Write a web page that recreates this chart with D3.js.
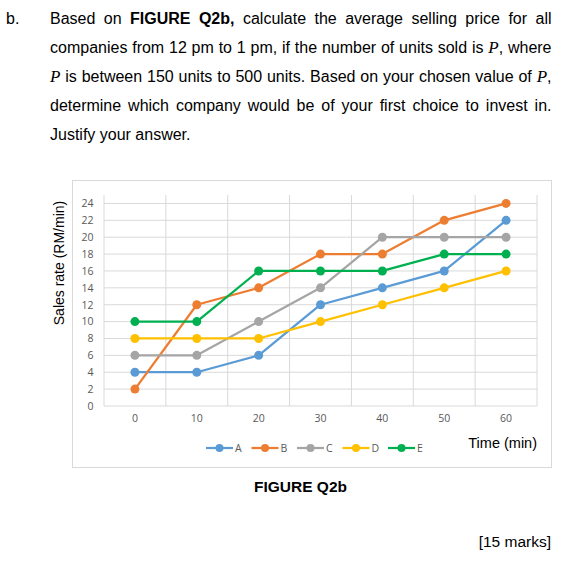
<!DOCTYPE html>
<html><head><meta charset="utf-8">
<script src="https://cdn.jsdelivr.net/npm/d3@7"></script>
<style>
html,body{margin:0;padding:0;background:#fff;}
svg{display:block;}
</style></head>
<body>
<svg id="c" width="567" height="563"></svg>
<script>
const categories = ["0","10","20","30","40","50","60"];
const seriesNames = ["A","B","C","D","E"];
const seriesA = [4,4,6,12,14,16,22];
const seriesB = [2,12,14,18,18,22,24];
const seriesC = [6,6,10,14,20,20,20];
const seriesD = [8,8,8,10,12,14,16];
const seriesE = [10,10,16,16,16,18,18];
const yTicks = [0,2,4,6,8,10,12,14,16,18,20,22,24];
const colors = ["#5B9BD5","#ED7D31","#A5A5A5","#FFC000","#00B050"];
const seriesValues = [seriesA, seriesB, seriesC, seriesD, seriesE];

const svg = d3.select("#c");
const SANS = "'Liberation Sans', Arial, sans-serif";
const TICKF = "'Open Sans', sans-serif";

// ---------- question text ----------
const paraLines = [
  {just:true, words:[[["Based"]],[["on"]],[["FIGURE","b"]],[["Q2b,","b"]],[["calculate"]],[["the"]],[["average"]],[["selling"]],[["price"]],[["for"]],[["all"]]]},
  {just:true, words:[[["companies"]],[["from"]],[["12"]],[["pm"]],[["to"]],[["1"]],[["pm,"]],[["if"]],[["the"]],[["number"]],[["of"]],[["units"]],[["sold"]],[["is"]],[["P","i"],[","]],[["where"]]]},
  {just:true, words:[[["P","i"]],[["is"]],[["between"]],[["150"]],[["units"]],[["to"]],[["500"]],[["units."]],[["Based"]],[["on"]],[["your"]],[["chosen"]],[["value"]],[["of"]],[["P","i"],[","]]]},
  {just:true, words:[[["determine"]],[["which"]],[["company"]],[["would"]],[["be"]],[["of"]],[["your"]],[["first"]],[["choice"]],[["to"]],[["invest"]],[["in."]]]},
  {just:false, words:[[["Justify"]],[["your"]],[["answer."]]]}
];
const textLeft = 50, textRight = 551.5, baseline0 = 24, lineGap = 29;
const FS = 16;
svg.append("text").attr("x",6).attr("y",baseline0).attr("font-family",SANS)
  .attr("font-size",FS).attr("fill","#000").text("b.");
paraLines.forEach((ln, li) => {
  const y = baseline0 + li*lineGap;
  const nodes = ln.words.map(w => {
    const t = svg.append("text").attr("y", y).attr("font-family",SANS).attr("font-size",FS).attr("fill","#000");
    w.forEach(run => {
      const ts = t.append("tspan").text(run[0]);
      if (run[1]==="b") ts.attr("font-weight","bold");
      if (run[1]==="i") ts.attr("font-family","'Liberation Serif', 'Times New Roman', serif").attr("font-style","italic").attr("font-size",FS+1);
    });
    return t;
  });
  const widths = nodes.map(n => n.node().getComputedTextLength());
  const total = d3.sum(widths);
  const gap = ln.just ? (textRight - textLeft - total)/(nodes.length-1) : FS*0.278;
  let x = textLeft;
  nodes.forEach((n,i) => { n.attr("x", x); x += widths[i] + gap; });
});

// ---------- chart ----------
svg.append("rect").attr("x",72.5).attr("y",180.5).attr("width",479).attr("height",287)
  .attr("fill","#fff").attr("stroke","#D9D9D9").attr("stroke-width",1);

const x = d3.scaleBand().domain(categories).range([104,537]).paddingInner(0).paddingOuter(0);
const y = d3.scaleLinear().domain([0,25]).range([406,195]);
const cx = c => x(c) + x.bandwidth()/2;

const grid = svg.append("g");
yTicks.forEach(t => {
  grid.append("line").attr("x1",104).attr("x2",537).attr("y1",y(t)).attr("y2",y(t))
    .attr("stroke","#D9D9D9").attr("stroke-width",1);
});
const bounds = categories.map(c => x(c)).concat([x.range()[1]]);
bounds.forEach(b => {
  grid.append("line").attr("x1",b).attr("x2",b).attr("y1",y(25)).attr("y2",y(0))
    .attr("stroke","#D9D9D9").attr("stroke-width",1);
});

// y axis labels
const yAxis = d3.axisLeft(y).tickValues(yTicks).tickSize(0).tickPadding(0);
const ya = svg.append("g").attr("transform","translate(93.5,0)").call(yAxis);
ya.select(".domain").remove();
ya.selectAll("text").attr("font-family",TICKF).attr("font-size",10.5).attr("fill","#595959");

// x axis labels
const xAxis = d3.axisBottom(x).tickSize(0).tickPadding(0);
const xa = svg.append("g").attr("transform","translate(0,415)").call(xAxis);
xa.select(".domain").remove();
xa.selectAll("text").attr("font-family",TICKF).attr("font-size",10.5).attr("fill","#595959");

// series
const line = d3.line().x((d,i)=>cx(categories[i])).y(d=>y(d));
seriesValues.forEach((vals, si) => {
  svg.append("path").datum(vals).attr("d", line).attr("fill","none")
    .attr("stroke",colors[si]).attr("stroke-width",2.25).attr("stroke-linejoin","round");
  svg.selectAll(null).data(vals).enter().append("circle")
    .attr("cx",(d,i)=>cx(categories[i])).attr("cy",d=>y(d)).attr("r",4.5)
    .attr("fill",colors[si]);
});

// legend
const legY = 448;
seriesNames.forEach((n, i) => {
  const lx = 206 + i*45.5;
  svg.append("line").attr("x1",lx).attr("x2",lx+27).attr("y1",legY).attr("y2",legY)
    .attr("stroke",colors[i]).attr("stroke-width",2.25);
  svg.append("circle").attr("cx",lx+13.5).attr("cy",legY).attr("r",4).attr("fill",colors[i]);
  svg.append("text").attr("x",lx+29).attr("y",legY+3.8).attr("font-family",TICKF)
    .attr("font-size",10.5).attr("fill","#595959").text(n);
});

// axis titles
svg.append("text").attr("x",537).attr("y",448).attr("text-anchor","end")
  .attr("font-family",SANS).attr("font-size",14.5).attr("fill","#000").text("Time (min)");
svg.append("text").attr("transform","translate(64,263) rotate(-90)").attr("text-anchor","middle")
  .attr("font-family",SANS).attr("font-size",14).attr("fill","#000").text("Sales rate (RM/min)");

// caption
svg.append("text").attr("x",300.5).attr("y",491.5).attr("text-anchor","middle")
  .attr("font-family",SANS).attr("font-weight","bold").attr("font-size",15.5).attr("fill","#000").text("FIGURE Q2b");
svg.append("text").attr("x",551).attr("y",547).attr("text-anchor","end")
  .attr("font-family",SANS).attr("font-size",15.5).attr("fill","#000").text("[15 marks]");
</script>
</body></html>
